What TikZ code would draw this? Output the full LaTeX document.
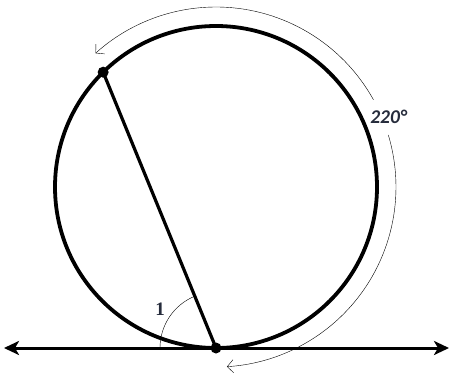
\documentclass[tikz,border=0pt]{standalone}
\usepackage{fontspec}
\newfontfamily\labfont{Carlito}
\newfontfamily\numfont{Liberation Serif}
\usetikzlibrary{arrows.meta,calc}
\definecolor{txt}{HTML}{262C3C}
\definecolor{thin}{HTML}{4A4A4A}
\tikzset{
  heavy/.style={line width=3.8pt, black},
  axis/.style={line width=3pt, black, {Stealth[length=15pt,width=14pt,inset=4pt]}-{Stealth[length=15pt,width=14pt,inset=4pt]}},
  thinarc/.style={line width=1pt, thin},
  arrowarc/.style={thinarc, -{Straight Barb[length=6pt,width=13pt]}},
  dot/.style={circle, fill=black, inner sep=0pt, minimum size=11pt},
}
\begin{document}
\begin{tikzpicture}[x=1pt,y=1pt]
\useasboundingbox (0,0) rectangle (452,376);
\coordinate (C) at (216,189);
\coordinate (L) at (4,28);
\coordinate (R) at (449,28);
% circle
\draw[heavy] (C) circle[radius=161];
% tangent line
\draw[axis] (L) -- (R);
% points
\node[dot] (T) at ($(C)+(-90:161)$) {};
\node[dot] (A) at ($(C)+(134.5:161)$) {};
% chord
\draw[line width=3.2pt] (A.center) -- (T.center);
% angle 1
\draw[thinarc] ([shift={(112.3:56)}]T.center) arc[start angle=112.3, end angle=180, radius=56];
\node[text=txt, font=\numfont\fontsize{19}{19}\selectfont\bfseries] (one) at (160,67) {1};
% outer arcs
\draw[arrowarc] ([shift={(29:180)}]C) arc[start angle=29, end angle=132, radius=180];
\draw[arrowarc] ([shift={(16.8:180)}]C) arc[start angle=16.8, end angle=-86.5, radius=180];
\node[text=txt, font=\labfont\fontsize{19.5}{19.5}\selectfont\bfseries\itshape] (deg) at (388.5,259) {220°};
\end{tikzpicture}
\end{document}
